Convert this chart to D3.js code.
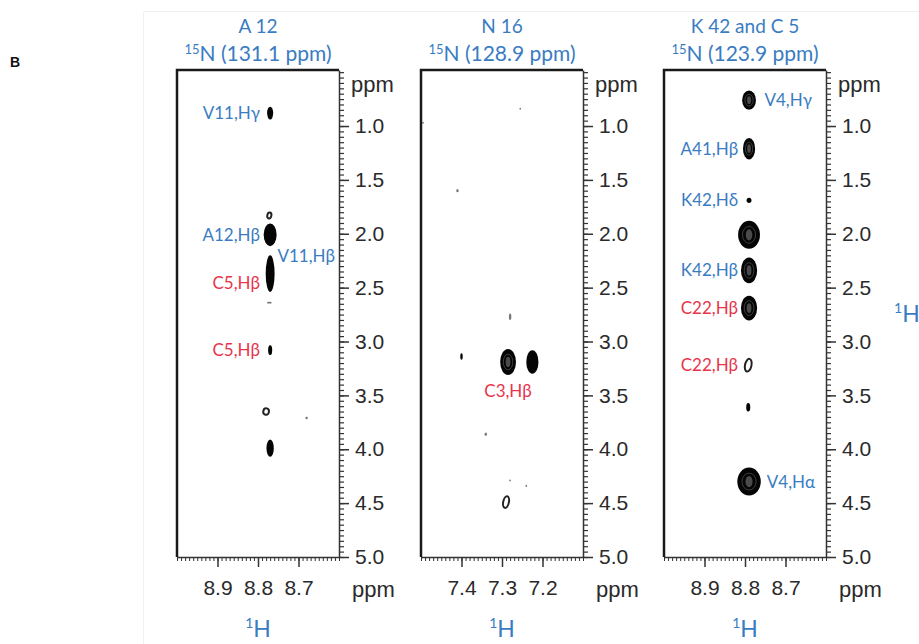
<!DOCTYPE html>
<html><head><meta charset="utf-8">
<script src="https://cdn.jsdelivr.net/npm/d3@7"></script>
<style>body{margin:0;background:#fff}svg{display:block}</style>
</head><body>
<svg id="c" width="919" height="644"></svg>
<script>
// ---- data ----
const panelTitles = ["A 12", "N 16", "K 42 and C 5"];
const nitrogenShifts = ["131.1", "128.9", "123.9"];
const xDomains = [[9.0, 8.6], [7.5, 7.1], [9.0, 8.6]];
const xTicks = [[8.9, 8.8, 8.7], [7.4, 7.3, 7.2], [8.9, 8.8, 8.7]];
const yTicks = [1.0, 1.5, 2.0, 2.5, 3.0, 3.5, 4.0, 4.5, 5.0];
const yDomain = [0.48, 5.0];
// peaks: [H ppm (x), H ppm (y), half-width x (ppm), half-width y (ppm), kind]
const peaksA12 = [
  [8.770, 0.88, 0.0075, 0.060, "fill"],
  [8.772, 1.83, 0.005, 0.028, "ring"],
  [8.770, 2.01, 0.016, 0.105, "fill"],
  [8.770, 2.37, 0.011, 0.170, "fill"],
  [8.772, 2.64, 0.006, 0.008, "faint"],
  [8.770, 3.08, 0.005, 0.045, "fill"],
  [8.780, 3.65, 0.007, 0.030, "ring"],
  [8.680, 3.71, 0.003, 0.012, "faint"],
  [8.770, 3.99, 0.009, 0.080, "fill"]
];
const peaksN16 = [
  [7.285, 3.19, 0.0195, 0.120, "big"],
  [7.225, 3.19, 0.0150, 0.110, "fill"],
  [7.400, 3.14, 0.003, 0.030, "fill"],
  [7.280, 2.77, 0.003, 0.030, "faint"],
  [7.340, 3.86, 0.003, 0.015, "faint"],
  [7.280, 4.29, 0.002, 0.010, "faint"],
  [7.240, 4.34, 0.002, 0.010, "faint"],
  [7.290, 4.49, 0.007, 0.055, "ring"],
  [7.255, 0.84, 0.002, 0.010, "faint"],
  [7.495, 0.97, 0.002, 0.010, "faint"],
  [7.410, 1.60, 0.003, 0.015, "faint"]
];
const peaksK42 = [
  [8.790, 0.76, 0.017, 0.090, "big"],
  [8.790, 1.21, 0.015, 0.100, "big"],
  [8.790, 1.69, 0.006, 0.025, "fill"],
  [8.790, 2.01, 0.027, 0.130, "big"],
  [8.790, 2.34, 0.020, 0.120, "big"],
  [8.790, 2.69, 0.020, 0.115, "big"],
  [8.792, 3.22, 0.008, 0.060, "ring"],
  [8.792, 3.61, 0.005, 0.040, "fill"],
  [8.790, 4.30, 0.029, 0.130, "big"]
];
const peakSets = [peaksA12, peaksN16, peaksK42];
// labels: [text, H ppm (x), H ppm (y), colour key, anchor]
const labelsA12 = [
  ["V11,Hγ", 8.795, 0.88, "blue", "end"],
  ["A12,Hβ", 8.795, 2.01, "blue", "end"],
  ["V11,Hβ", 8.752, 2.21, "blue", "start"],
  ["C5,Hβ", 8.795, 2.46, "red", "end"],
  ["C5,Hβ", 8.795, 3.08, "red", "end"]
];
const labelsN16 = [
  ["C3,Hβ", 7.285, 3.46, "red", "middle"]
];
const labelsK42 = [
  ["V4,Hγ", 8.752, 0.76, "blue", "start"],
  ["A41,Hβ", 8.817, 1.21, "blue", "end"],
  ["K42,Hδ", 8.817, 1.69, "blue", "end"],
  ["K42,Hβ", 8.817, 2.34, "blue", "end"],
  ["C22,Hβ", 8.817, 2.69, "red", "end"],
  ["C22,Hβ", 8.817, 3.22, "red", "end"],
  ["V4,Hα", 8.746, 4.30, "blue", "start"]
];
const labelSets = [labelsA12, labelsN16, labelsK42];

// ---- drawing ----
const colors = {blue: "#3a7cc2", red: "#e8344a"};
const svg = d3.select("#c");
const panelLefts = [177, 421, 664];
const panelW = 162, yTop = 70, yBottom = 557;
const labelFont = "Lato, 'Open Sans', sans-serif";
const axisFont = "'Liberation Sans', Arial, sans-serif";
const ink = "#2a2a2a";

// faint frame of the original figure
svg.append("path").attr("d", "M143.5,644 V11.5 H919").attr("fill", "none")
  .attr("stroke", "#f1f1f1").attr("stroke-width", 1);

svg.append("text").attr("x", 10).attr("y", 67).text("B")
  .attr("font-family", axisFont).attr("font-weight", "bold").attr("font-size", 14).attr("fill", "#111");

const y = d3.scaleLinear().domain(yDomain).range([yTop, yBottom]);

panelLefts.forEach((L, i) => {
  const R = L + panelW;
  const x = d3.scaleLinear().domain(xDomains[i]).range([L, R]);
  const g = svg.append("g");
  const cx = (L + R) / 2;

  // titles
  g.append("text").attr("x", cx).attr("y", 33).attr("text-anchor", "middle")
    .attr("font-family", labelFont).attr("font-size", 19).attr("fill", colors.blue).text(panelTitles[i]);
  const t2 = g.append("text").attr("x", cx).attr("y", 61).attr("text-anchor", "middle")
    .attr("font-family", labelFont).attr("font-size", 21).attr("fill", colors.blue);
  t2.append("tspan").attr("font-size", 13).attr("dy", -7).text("15");
  t2.append("tspan").attr("dy", 7).text(`N (${nitrogenShifts[i]} ppm)`);

  // peaks
  const clip = "clip" + i;
  svg.append("clipPath").attr("id", clip).append("rect")
    .attr("x", L).attr("y", yTop).attr("width", panelW).attr("height", yBottom - yTop);
  const pg = g.append("g").attr("clip-path", `url(#${clip})`);
  peakSets[i].forEach(p => {
    const px = x(p[0]), py = y(p[1]);
    const rx = Math.abs(x(p[0] + p[2]) - px), ry = Math.abs(y(p[1] + p[3]) - py);
    const kind = p[4];
    if (kind === "ring") {
      pg.append("ellipse").attr("cx", px).attr("cy", py).attr("rx", rx).attr("ry", ry)
        .attr("fill", "none").attr("stroke", "#222").attr("stroke-width", 2)
        .attr("transform", `rotate(12,${px},${py})`);
    } else if (kind === "faint") {
      pg.append("ellipse").attr("cx", px).attr("cy", py).attr("rx", rx).attr("ry", ry)
        .attr("fill", "#777");
    } else {
      pg.append("ellipse").attr("cx", px).attr("cy", py).attr("rx", rx).attr("ry", ry)
        .attr("fill", "#050505");
      if (kind === "big") {
        pg.append("ellipse").attr("cx", px).attr("cy", py).attr("rx", rx * 0.6).attr("ry", ry * 0.6)
          .attr("fill", "none").attr("stroke", "#555").attr("stroke-width", 0.7);
        pg.append("ellipse").attr("cx", px).attr("cy", py).attr("rx", rx * 0.3).attr("ry", ry * 0.4)
          .attr("fill", "#4a4a4a");
      }
    }
  });

  // labels
  labelSets[i].forEach(l => {
    g.append("text").attr("x", x(l[1])).attr("y", y(l[2]) + 6)
      .attr("text-anchor", l[4]).attr("font-family", labelFont).attr("font-size", 17)
      .attr("fill", colors[l[3]]).text(l[0]);
  });

  // frame: thick top and left
  g.append("path").attr("d", `M${L},${yBottom} V${yTop} H${R}`).attr("fill", "none")
    .attr("stroke", "#1a1a1a").attr("stroke-width", 2.5);

  // right axis (minor + major)
  const minorY = d3.range(0.5, 5.001, 0.05).filter(v => v >= yDomain[0]);
  g.append("g").attr("transform", `translate(${R},0)`)
    .call(d3.axisRight(y).tickValues(minorY).tickSize(5).tickFormat(""))
    .call(a => a.select(".domain").remove())
    .selectAll("line").attr("stroke", "#333").attr("stroke-width", 1.2);
  const ay = g.append("g").attr("transform", `translate(${R},0)`)
    .call(d3.axisRight(y).tickValues(yTicks).tickSize(10).tickSizeOuter(0).tickPadding(6).tickFormat(d3.format(".1f")));
  ay.select(".domain").attr("stroke", "#333").attr("stroke-width", 1.5);
  ay.selectAll("line").attr("stroke", "#333").attr("stroke-width", 1.5);
  ay.selectAll("text").attr("font-family", axisFont).attr("font-size", 21).attr("fill", ink);

  // bottom axis (minor + major)
  const d0 = xDomains[i];
  const minorX = d3.range(Math.round(d0[1] * 100), Math.round(d0[0] * 100) + 1).map(v => v / 100);
  g.append("g").attr("transform", `translate(0,${yBottom})`)
    .call(d3.axisBottom(x).tickValues(minorX).tickSize(4).tickFormat(""))
    .call(a => a.select(".domain").remove())
    .selectAll("line").attr("stroke", "#333").attr("stroke-width", 1);
  const ax = g.append("g").attr("transform", `translate(0,${yBottom})`)
    .call(d3.axisBottom(x).tickValues(xTicks[i]).tickSize(10).tickSizeOuter(0).tickPadding(13).tickFormat(d3.format(".1f")));
  ax.select(".domain").attr("stroke", "#333").attr("stroke-width", 1.5);
  ax.selectAll("line").attr("stroke", "#333").attr("stroke-width", 1.5);
  ax.selectAll("text").attr("font-family", axisFont).attr("font-size", 21).attr("fill", ink);

  // ppm units
  g.append("text").attr("x", R + 12).attr("y", 92).attr("font-family", axisFont)
    .attr("font-size", 22).attr("fill", ink).text("ppm");
  g.append("text").attr("x", R + 13).attr("y", 597).attr("font-family", axisFont)
    .attr("font-size", 22).attr("fill", ink).text("ppm");

  // 1H axis title
  const h = g.append("text").attr("x", cx).attr("y", 637).attr("text-anchor", "middle")
    .attr("font-family", labelFont).attr("font-size", 23).attr("fill", colors.blue);
  h.append("tspan").attr("font-size", 14).attr("dy", -9).text("1");
  h.append("tspan").attr("dy", 9).text("H");
});

// right-hand 1H label
const hr = svg.append("text").attr("x", 894).attr("y", 322)
  .attr("font-family", labelFont).attr("font-size", 23).attr("fill", colors.blue);
hr.append("tspan").attr("font-size", 14).attr("dy", -9).text("1");
hr.append("tspan").attr("dy", 9).text("H");
</script>
</body></html>
